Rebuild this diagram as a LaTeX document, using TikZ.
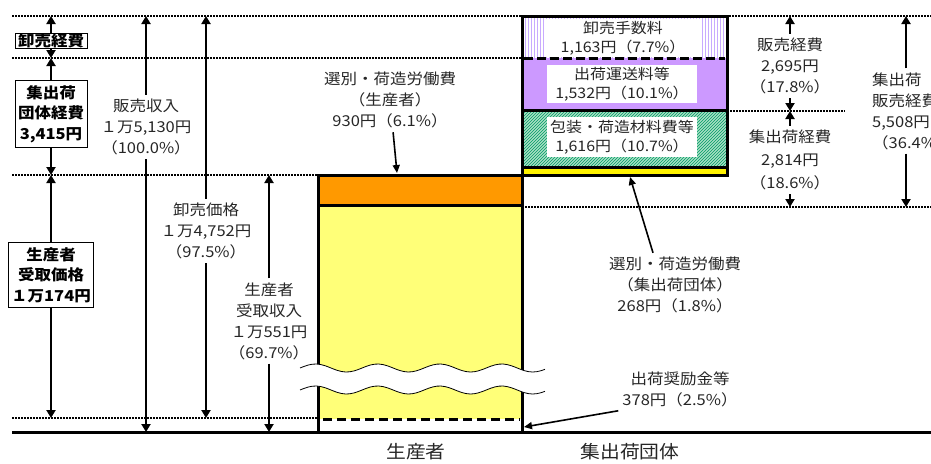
\documentclass[tikz,border=0pt]{standalone}
\usepackage{fontspec}
\newfontfamily\jp[FakeStretch=1.1]{Noto Sans CJK JP}
\usetikzlibrary{arrows.meta, patterns}

\definecolor{orangebar}{HTML}{FF9900}
\definecolor{yellowbar}{HTML}{FFFF78}
\definecolor{purplebar}{HTML}{CC99FF}
\definecolor{greenbar}{HTML}{A8E0C4}
\definecolor{hatch}{HTML}{009966}
\definecolor{lav}{HTML}{C8AAFF}

\tikzset{
	lbl/.style = {align = center, font = \jp\fontsize{15}{21}\selectfont, text = black!85, inner sep = 4pt},
	barlbl/.style = {align = center, fill = white, font = \jp\fontsize{14.5}{19}\selectfont, text = black!85, inner sep = 1pt},
	boxlbl/.style = {draw, line width = 0.8pt, fill = white, align = center, font = \jp\bfseries\fontsize{15}{20.5}\selectfont, inner xsep = 3pt, inner ysep = 5pt},
	arr/.style = {line width = 2.6pt, -{Triangle[width = 9pt, length = 8pt]}},
	ptr/.style = {line width = 1.6pt, -{Triangle[width = 7pt, length = 8pt]}},
	level/.style = {line width = 1.6pt, dash pattern = on 1.6pt off 1.4pt}
}

\begin{document}
\begin{tikzpicture}[x = 1pt, y = -1pt]
	\useasboundingbox (0, 0) rectangle (931, 463);

	% levels
	\foreach \y/\a/\b in {16/12/931, 58/12/522, 111/727/845, 175/12/318, 207/522/931, 418/12/318} {
		\draw [level] (\a, \y) -- (\b, \y);
	}

	% producer bar
	\fill [orangebar] (318, 175) rectangle (522, 205);
	\fill [yellowbar] (318, 205) rectangle (522, 419);
	\draw [line width = 3pt] (318, 205) -- (522, 205);
	\draw [line width = 3pt, dash pattern = on 9pt off 5pt] (323, 419) -- (520, 419);
	\draw [line width = 3pt] (318, 432) -- (318, 175) -- (522, 175) -- (522, 432);

	% group bar
	\fill [pattern = vertical lines, pattern color = lav] (522, 16) rectangle (727, 58);
	\fill [purplebar] (522, 58) rectangle (727, 110);
	\fill [greenbar] (522, 110) rectangle (727, 167);
	\fill [pattern = north east lines, pattern color = hatch] (522, 110) rectangle (727, 167);
	\fill [yellow] (522, 167) rectangle (727, 175);
	\draw [line width = 3pt, dash pattern = on 9pt off 4pt] (524, 58) -- (725, 58);
	\draw [line width = 3pt] (522, 110) -- (727, 110);
	\draw [line width = 3pt] (522, 167) -- (727, 167);
	\draw [line width = 3pt] (522, 16) rectangle (727, 175);

	% break
	\fill [white] plot [smooth, domain = 300:545, samples = 60] (\x, {368 - 4 * sin((\x - 300) * 5.8)})
		-- plot [smooth, domain = 545:300, samples = 60] (\x, {390 - 4 * sin((\x - 300) * 5.8)}) -- cycle;
	\draw [line width = 0.8pt] plot [smooth, domain = 300:545, samples = 60] (\x, {368 - 4 * sin((\x - 300) * 5.8)});
	\draw [line width = 0.8pt] plot [smooth, domain = 300:545, samples = 60] (\x, {390 - 4 * sin((\x - 300) * 5.8)});

	% ground
	\draw [line width = 3pt] (12, 432) -- (931, 432);

	% boxes left
	\node [boxlbl, inner ysep = 0.5pt] (wsexp) at (51, 41) {卸売経費};
	\node [boxlbl] (grpexp) at (51, 114) {集出荷\\団体経費\\3,415円};
	\node [boxlbl] (prdprice) at (51, 275) {生産者\\受取価格\\１万174円};
	\coordinate (l16) at (51, 16);
	\coordinate (l58) at (51, 58);
	\coordinate (l175) at (51, 175);
	\coordinate (l418) at (51, 418);
	\draw [arr] (wsexp) -- (l16);
	\draw [arr] (wsexp) -- (l58);
	\draw [arr] (grpexp) -- (l58);
	\draw [arr] (grpexp) -- (l175);
	\draw [arr] (prdprice) -- (l175);
	\draw [arr] (prdprice) -- (l418);

	% revenue columns
	\node [lbl] (rev) at (146, 127) {販売収入\\１万5,130円\\（100.0\%）};
	\coordinate (revtop) at (146, 16);
	\coordinate (revbot) at (146, 432);
	\draw [arr] (rev) -- (revtop);
	\draw [arr] (rev) -- (revbot);

	\node [lbl] (whp) at (206, 231) {卸売価格\\１万4,752円\\（97.5\%）};
	\coordinate (whptop) at (206, 16);
	\coordinate (whpbot) at (206, 418);
	\draw [arr] (whp) -- (whptop);
	\draw [arr] (whp) -- (whpbot);

	\node [lbl] (fin) at (269, 321) {生産者\\受取収入\\１万551円\\（69.7\%）};
	\coordinate (fintop) at (269, 175);
	\coordinate (finbot) at (269, 432);
	\draw [arr] (fin) -- (fintop);
	\draw [arr] (fin) -- (finbot);

	% bar texts
	\node [barlbl, minimum width = 156pt, minimum height = 38pt, fill = white] (fee) at (623, 38) {卸売手数料\\1,163円（7.7\%）};
	\node [barlbl, minimum width = 150pt, minimum height = 38pt] (trn) at (622, 84) {出荷運送料等\\1,532円（10.1\%）};
	\node [barlbl, minimum width = 150pt, minimum height = 40pt] (pak) at (622, 137) {包装・荷造材料費等\\1,616円（10.7\%）};

	% pointers
	\node [lbl] (sel) at (390, 100) {選別・荷造労働費\\（生産者）\\930円（6.1\%）};
	\coordinate (seltip) at (397, 173);
	\draw [ptr] (sel) -- (seltip);

	\node [lbl] (rsel) at (675, 285) {選別・荷造労働費\\（集出荷団体）\\268円（1.8\%）};
	\coordinate (rseltip) at (630, 177);
	\draw [ptr] ([xshift = -22pt]rsel.north) -- (rseltip);

	\node [lbl] (inc) at (680, 389) {出荷奨励金等\\378円（2.5\%）};
	\coordinate (inctip) at (524, 427);
	\draw [ptr] (inc.south west) -- (inctip);

	% right columns
	\node [lbl] (sal) at (790, 66) {販売経費\\2,695円\\（17.8\%）};
	\coordinate (r16) at (790, 16);
	\coordinate (r111) at (790, 111);
	\coordinate (r207) at (790, 207);
	\draw [arr] (sal) -- (r16);
	\draw [arr] (sal) -- (r111);

	\node [lbl, font = \jp\fontsize{15}{23}\selectfont] (col) at (790, 160) {集出荷経費\\2,814円\\（18.6\%）};
	\draw [arr] (col) -- (r111);
	\draw [arr] (col) -- (r207);

	\node [lbl, align = left, anchor = west] (tot) at (868, 111) {集出荷\\販売経費\\5,508円\\（36.4\%）};
	\coordinate (tottop) at (906, 16);
	\coordinate (totbot) at (906, 207);
	\draw [arr] (tottop |- tot.north) -- (tottop);
	\draw [arr] (totbot |- tot.south) -- (totbot);

	% bottom
	\node [lbl, font = \jp\fontsize{18}{20}\selectfont] (prd) at (416, 452) {生産者};
	\node [lbl, font = \jp\fontsize{18}{20}\selectfont] (grp) at (630, 452) {集出荷団体};
\end{tikzpicture}
\end{document}
